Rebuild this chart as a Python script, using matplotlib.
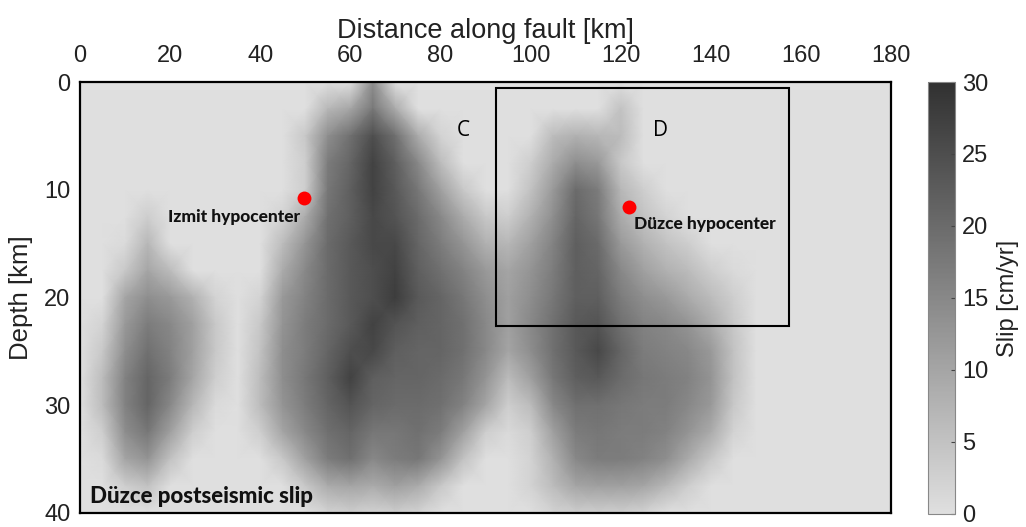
import numpy as np
import matplotlib.pyplot as plt
from matplotlib.colors import LinearSegmentedColormap
from matplotlib.patches import Rectangle

plt.rcParams["font.family"] = ["Liberation Sans", "DejaVu Sans"]

# grid nodes (km along fault, km depth)
distance = np.arange(0, 181, 5)
depth = np.arange(0, 40.1, 2.5)

# postseismic slip [cm/yr], one row per depth node
#        0  5 10 15 20 25 30 35 40 45 50 55 60 65 70 75 80 85 90 95 100 105 110 115 120 125 130 135 140 145 150 ...
slip = [
    [0, 0, 0, 0, 0, 0, 0, 0, 0, 0, 0, 0, 0, 14, 0, 0, 0, 0, 0, 0, 0, 0, 0, 0, 0, 0, 0, 0, 0, 0, 0, 0, 0, 0, 0, 0, 0],
    [0, 0, 0, 0, 0, 0, 0, 0, 0, 0, 0, 7, 10, 18, 9, 0, 0, 0, 0, 0, 0, 0, 0, 0, 5, 0, 0, 0, 0, 0, 0, 0, 0, 0, 0, 0, 0],
    [0, 0, 0, 0, 0, 0, 0, 0, 0, 0, 4, 14, 19, 25, 19, 9, 2, 0, 0, 0, 0, 6, 8, 7, 6, 0, 0, 0, 0, 0, 0, 0, 0, 0, 0, 0, 0],
    [0, 0, 0, 0, 0, 0, 0, 0, 0, 0, 3, 17, 21, 27, 22, 15, 6, 0, 0, 0, 3, 9, 14, 12, 4, 0, 0, 0, 0, 0, 0, 0, 0, 0, 0, 0, 0],
    [0, 0, 0, 0, 0, 0, 0, 0, 0, 0, 3, 18, 22, 27, 23, 18, 11, 4, 0, 0, 5, 12, 20, 17, 7, 3, 0, 0, 0, 0, 0, 0, 0, 0, 0, 0, 0],
    [0, 0, 0, 3, 0, 0, 0, 0, 0, 2, 9, 19, 22, 26, 24, 20, 15, 9, 4, 3, 8, 14, 21, 18, 9, 5, 2, 0, 0, 0, 0, 0, 0, 0, 0, 0, 0],
    [0, 0, 1, 7, 0, 0, 0, 0, 0, 6, 13, 20, 23, 26, 26, 21, 17, 13, 8, 7, 11, 16, 22, 20, 12, 8, 5, 3, 0, 0, 0, 0, 0, 0, 0, 0, 0],
    [0, 0, 4, 10, 6, 0, 0, 0, 0, 9, 15, 20, 23, 25, 27, 22, 19, 16, 12, 10, 13, 17, 22, 21, 15, 11, 8, 6, 3, 1, 0, 0, 0, 0, 0, 0, 0],
    [0, 0, 10, 14, 12, 8, 2, 0, 2, 12, 16, 20, 23, 25, 28, 23, 21, 18, 14, 11, 14, 18, 22, 22, 17, 14, 12, 9, 6, 3, 0, 0, 0, 0, 0, 0, 0],
    [0, 2, 12, 17, 15, 11, 4, 0, 4, 13, 17, 20, 23, 27, 24, 22, 21, 19, 15, 11, 15, 19, 23, 24, 19, 16, 15, 13, 9, 4, 0, 0, 0, 0, 0, 0, 0],
    [0, 4, 14, 19, 16, 11, 4, 0, 5, 14, 17, 21, 25, 26, 22, 21, 21, 19, 15, 10, 14, 19, 23, 26, 21, 17, 16, 15, 12, 5, 0, 0, 0, 0, 0, 0, 0],
    [0, 6, 16, 21, 17, 10, 3, 0, 6, 14, 18, 22, 27, 22, 21, 21, 20, 18, 13, 6, 11, 18, 22, 23, 20, 18, 17, 16, 13, 5, 0, 0, 0, 0, 0, 0, 0],
    [0, 6, 16, 21, 15, 7, 1, 0, 6, 13, 17, 21, 24, 21, 20, 20, 19, 16, 10, 3, 6, 15, 19, 19, 18, 17, 17, 15, 12, 4, 0, 0, 0, 0, 0, 0, 0],
    [0, 3, 14, 18, 11, 3, 0, 0, 3, 10, 15, 19, 21, 18, 18, 19, 17, 11, 3, 1, 3, 11, 17, 18, 17, 17, 16, 13, 9, 2, 0, 0, 0, 0, 0, 0, 0],
    [0, 1, 10, 13, 5, 0, 0, 0, 0, 4, 11, 17, 19, 15, 17, 18, 13, 5, 0, 0, 2, 8, 15, 17, 17, 16, 14, 9, 4, 0, 0, 0, 0, 0, 0, 0, 0],
    [0, 0, 3, 5, 0, 0, 0, 0, 0, 0, 4, 9, 10, 9, 11, 9, 4, 0, 0, 0, 2, 6, 10, 11, 11, 10, 7, 3, 0, 0, 0, 0, 0, 0, 0, 0, 0],
    [0, 0, 0, 0, 0, 0, 0, 0, 0, 0, 0, 2, 3, 2, 3, 2, 0, 0, 0, 0, 0, 2, 3, 3, 3, 2, 0, 0, 0, 0, 0, 0, 0, 0, 0, 0, 0],
]

# hypocenters and box D
hypo_names = ["Izmit hypocenter", "Düzce hypocenter"]
hypo_x = [49.6, 121.8]
hypo_z = [10.8, 11.6]
box_d = (92.3, 0.6, 157.3, 22.6)   # x0, z0, x1, z1

cmap = LinearSegmentedColormap.from_list("slip", ["#dfdfdf", "#313131"])

fig = plt.figure(figsize=(10.26, 5.27), dpi=100)
ax = fig.add_axes([0.078, 0.0266, 0.7906, 0.8178])
cax = fig.add_axes([0.9045, 0.0247, 0.0263, 0.8197])

mesh = ax.pcolormesh(distance, depth, np.array(slip), cmap=cmap, vmin=0, vmax=30,
                     shading="gouraud")
ax.set_xlim(0, 180)
ax.set_ylim(40, 0)

ax.xaxis.tick_top()
ax.xaxis.set_label_position("top")
ax.set_xticks(np.arange(0, 181, 20))
ax.set_yticks(np.arange(0, 41, 10))
ax.tick_params(axis="x", length=0, pad=11, labelsize=17, labelcolor="#222222")
ax.tick_params(axis="y", length=0, pad=7, labelsize=17, labelcolor="#222222")
ax.set_xlabel("Distance along fault [km]", fontsize=19.5, labelpad=5, color="#222222")
ax.set_ylabel("Depth [km]", fontsize=18.5, labelpad=8, color="#222222")
for s in ax.spines.values():
    s.set_linewidth(1.6)

# box D
ax.add_patch(Rectangle((box_d[0], box_d[1]), box_d[2] - box_d[0], box_d[3] - box_d[1],
                       fill=False, edgecolor="black", linewidth=1.5))
ax.text(85, 4.5, "C", fontsize=15, ha="center", va="center", family="Open Sans")
ax.text(128.9, 4.5, "D", fontsize=15, ha="center", va="center", family="Open Sans")

# hypocenters
ax.plot(hypo_x, hypo_z, "o", color="red", markersize=10, markeredgewidth=0)
ax.text(48.8, 12.5, hypo_names[0], fontsize=12.5, fontweight="black", family="Lato",
        ha="right", va="center", color="#111111")
ax.text(123.0, 13.2, hypo_names[1], fontsize=12.5, fontweight="black", family="Lato",
        ha="left", va="center", color="#111111")
ax.text(2.2, 38.5, "Düzce postseismic slip", fontsize=16, fontweight="black",
        family="Lato", ha="left", va="center", color="#111111")

cb = fig.colorbar(mesh, cax=cax, ticks=np.arange(0, 31, 5))
cb.outline.set_edgecolor("#888888")
cb.outline.set_linewidth(0.8)
cax.tick_params(labelsize=17, length=3, direction="in", color="#444444", pad=5,
                labelcolor="#222222")
cb.set_label("Slip [cm/yr]", fontsize=17, labelpad=6, color="#222222")

fig.savefig("out.png", dpi=100)
